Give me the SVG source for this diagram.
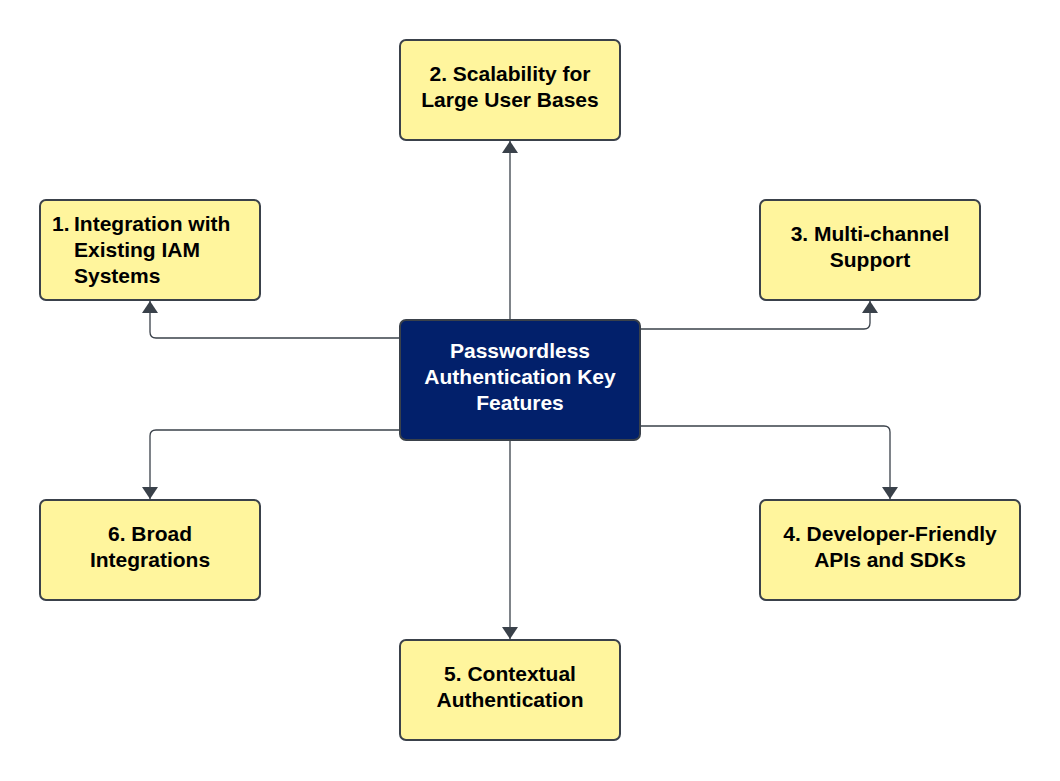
<svg xmlns="http://www.w3.org/2000/svg" width="1060" height="781" viewBox="0 0 1060 781">
<defs>
<style>
.n rect{fill:#fff59d;stroke:#3a414a;stroke-width:2}
.c rect{fill:#02206b;stroke:#3a414a;stroke-width:2}
text{font-family:"Liberation Sans",Arial,sans-serif;font-weight:bold;font-size:21px;fill:#000}
.n text{text-anchor:middle}
.c text{text-anchor:middle;fill:#fff}
.e path{fill:none;stroke:#3a414a;stroke-width:1.3}
</style>
<marker id="ah" viewBox="0 0 12 16" refX="12" refY="8" markerWidth="12" markerHeight="16" markerUnits="userSpaceOnUse" orient="auto">
<path d="M0,0 L12,8 L0,16 Z" fill="#3a414a"/>
</marker>
</defs>
<rect width="1060" height="781" fill="#fff"/>
<g class="e" id="connectors">
<path d="M510,320 V141" marker-end="url(#ah)"/>
<path d="M400,338 H156 Q150,338 150,332 V301" marker-end="url(#ah)"/>
<path d="M640,329 H864 Q870,329 870,323 V301" marker-end="url(#ah)"/>
<path d="M400,430 H156 Q150,430 150,436 V499" marker-end="url(#ah)"/>
<path d="M640,426 H884 Q890,426 890,432 V499" marker-end="url(#ah)"/>
<path d="M510,440 V639" marker-end="url(#ah)"/>
</g>
<g id="center" class="c">
<rect x="400" y="320" width="240" height="120" rx="6"/>
<text x="520" y="358">Passwordless</text>
<text x="520" y="384">Authentication Key</text>
<text x="520" y="410">Features</text>
</g>
<g id="n1" class="n">
<rect x="40" y="200" width="220" height="100" rx="6"/>
<text x="52" y="231" style="text-anchor:start">1.</text>
<text x="74" y="231" style="text-anchor:start">Integration with</text>
<text x="74" y="257" style="text-anchor:start">Existing IAM</text>
<text x="74" y="283" style="text-anchor:start">Systems</text>
</g>
<g id="n2" class="n">
<rect x="400" y="40" width="220" height="100" rx="6"/>
<text x="510" y="81">2. Scalability for</text>
<text x="510" y="107">Large User Bases</text>
</g>
<g id="n3" class="n">
<rect x="760" y="200" width="220" height="100" rx="6"/>
<text x="870" y="241">3. Multi-channel</text>
<text x="870" y="267">Support</text>
</g>
<g id="n4" class="n">
<rect x="760" y="500" width="260" height="100" rx="6"/>
<text x="890" y="541">4. Developer-Friendly</text>
<text x="890" y="567">APIs and SDKs</text>
</g>
<g id="n5" class="n">
<rect x="400" y="640" width="220" height="100" rx="6"/>
<text x="510" y="681">5. Contextual</text>
<text x="510" y="707">Authentication</text>
</g>
<g id="n6" class="n">
<rect x="40" y="500" width="220" height="100" rx="6"/>
<text x="150" y="541">6. Broad</text>
<text x="150" y="567">Integrations</text>
</g>
</svg>
